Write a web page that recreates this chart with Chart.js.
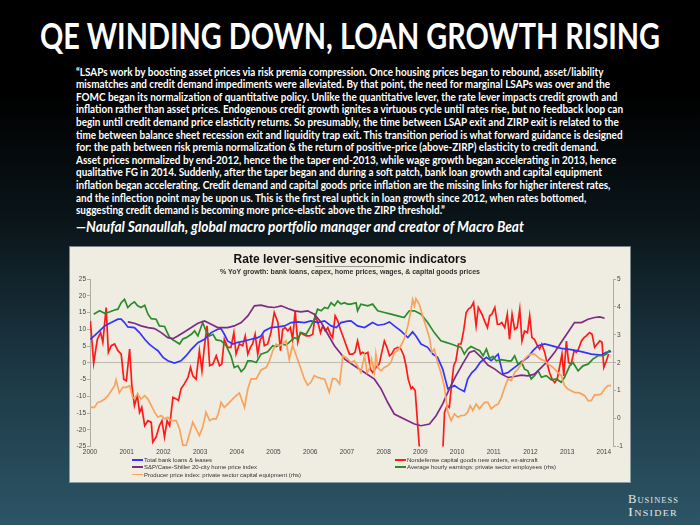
<!DOCTYPE html>
<html><head><meta charset="utf-8">
<script src="https://cdn.jsdelivr.net/npm/chart.js@4.4.1/dist/chart.umd.min.js"></script>
<style>
html,body{margin:0;padding:0;width:700px;height:525px;overflow:hidden}
body{position:relative;background:linear-gradient(180deg,#000 0%,#000 18%,#0a1519 42%,#1a3541 68%,#2d5566 100%);color:#fff;font-family:Lato,"Open Sans",sans-serif}
.fit{position:absolute;white-space:nowrap;transform-origin:0 50%}
#title{left:40px;top:15px;font-size:36px;font-weight:700;line-height:40px}
.q{left:76px;font-size:11.5px;font-weight:700;line-height:13px}
#attr{left:76px;top:217px;font-size:15px;font-weight:700;font-style:italic;line-height:18px}
#panel{position:absolute;left:70px;top:247px;width:560px;height:235px;background:#efece1;box-shadow:0 0 0 1px rgba(255,255,255,0.45)}
#panel canvas{position:absolute;left:0;top:0}
#ctitle{position:absolute;left:0;width:560px;top:5px;text-align:center;font-family:"Liberation Sans",Arial,sans-serif;font-weight:700;font-size:12px;line-height:14px;color:#111}
#csub{position:absolute;left:0;width:560px;top:20.5px;text-align:center;font-family:"Liberation Sans",Arial,sans-serif;font-weight:700;font-size:7px;line-height:8px;color:#333}
#uline{position:absolute;left:245px;top:18.5px;width:69px;height:1px;background:#9a978f}
.lg{position:absolute;font-family:"Liberation Sans",Arial,sans-serif;font-size:6px;line-height:7px;color:#333;white-space:nowrap}
.lg i{display:inline-block;width:11px;height:1.6px;vertical-align:middle;margin-right:1px;margin-top:-1px}
.bi{position:absolute;left:628px;font-family:"Liberation Serif","DejaVu Serif",serif;font-size:12px;line-height:13px;font-variant:small-caps;letter-spacing:1px;color:#e4e7ea}
</style></head>
<body>
<div id="title" class="fit" data-w="620">QE WINDING DOWN, LOAN GROWTH RISING</div>
<div id="quote"></div>
<div id="attr" class="fit" data-w="448">—Naufal Sanaullah, global macro portfolio manager and creator of Macro Beat</div>
<div id="panel">
  <canvas id="c" width="560" height="212" style="width:560px;height:212px"></canvas>
  <div id="ctitle">Rate lever-sensitive economic indicators</div>
  <div id="uline"></div>
  <div id="csub">% YoY growth: bank loans, capex, home prices, wages, &amp; capital goods prices</div>
  <div id="legend"></div>
</div>
<div class="bi fit" data-w="51" style="top:492.5px">Business</div>
<div class="bi fit" data-w="50" style="top:505.5px">Insider</div>
<script>
// ---------- text ----------
const quoteLines = [
"\u201cLSAPs work by boosting asset prices via risk premia compression. Once housing prices began to rebound, asset/liability",
"mismatches and credit demand impediments were alleviated. By that point, the need for marginal LSAPs was over and the",
"FOMC began its normalization of quantitative policy. Unlike the quantitative lever, the rate lever impacts credit growth and",
"inflation rather than asset prices. Endogenous credit growth ignites a virtuous cycle until rates rise, but no feedback loop can",
"begin until credit demand price elasticity returns. So presumably, the time between LSAP exit and ZIRP exit is related to the",
"time between balance sheet recession exit and liquidity trap exit. This transition period is what forward guidance is designed",
"for: the path between risk premia normalization & the return of positive-price (above-ZIRP) elasticity to credit demand.",
"Asset prices normalized by end-2012, hence the the taper end-2013, while wage growth began accelerating in 2013, hence",
"qualitative FG in 2014. Suddenly, after the taper began and during a soft patch, bank loan growth and capital equipment",
"inflation began accelerating. Credit demand and capital goods price inflation are the missing links for higher interest rates,",
"and the inflection point may be upon us. This is the first real uptick in loan growth since 2012, when rates bottomed,",
"suggesting credit demand is becoming more price-elastic above the ZIRP threshold.\u201d"
];

// ---------- chart data ----------
const yearTicks = [2000,2001,2002,2003,2004,2005,2006,2007,2008,2009,2010,2011,2012,2013,2014];
const leftTicks = [-25,-20,-15,-10,-5,0,5,10,15,20,25];
const rightTicks = [-1,0,1,2,3,4,5];
const seriesNames = [
  "Total bank loans & leases",
  "S&P/Case-Shiller 20-city home price index",
  "Producer price index: private sector capital equipment (rhs)",
  "Nondefense capital goods new orders, ex-aircraft",
  "Average hourly earnings: private sector employees (rhs)"
];

// Total bank loans & leases (% YoY, left axis)
const loansT = [2000.01,2000.21,2000.40,2000.58,2000.76,2000.85,2000.94,2001.03,2001.21,2001.35,2001.49,2001.62,2001.76,2001.85,2001.99,
2002.12,2002.30,2002.48,2002.62,2002.76,2002.94,2003.12,2003.30,2003.48,2003.57,2003.66,2003.75,2003.89,2004.03,2004.21,2004.39,2004.57,
2004.66,2004.75,2004.93,2005.12,2005.30,2005.48,2005.66,2005.84,2006.02,2006.21,2006.39,2006.57,2006.71,2006.84,2007.02,2007.11,2007.29,
2007.48,2007.70,2007.84,2008.02,2008.16,2008.29,2008.47,2008.66,2008.79,2008.88,2009.02,2009.20,2009.34,2009.47,2009.61,2009.75,2009.84,
2009.93,2010.06,2010.20,2010.29,2010.40,2010.50,2010.63,2010.80,2010.93,2011.12,2011.25,2011.39,2011.57,2011.75,2011.93,2012.07,2012.21,
2012.39,2012.57,2012.84,2013.11,2013.39,2013.66,2013.93,2014.07,2014.20];
const loansV = [7.0,9.0,11.0,12.0,13.0,13.0,12.0,10.7,10.5,9.0,7.0,5.5,4.3,3.6,1.6,
0.6,-0.1,0.6,2.1,4.0,6.0,7.0,9.0,10.0,10.2,8.5,6.5,5.6,6.1,6.5,7.0,7.5,
8.0,9.5,10.5,10.7,11.0,12.0,12.2,12.0,12.5,12.0,12.5,11.0,10.5,12.0,12.4,12.5,11.0,
10.5,12.0,11.2,11.5,12.2,11.0,9.5,7.5,9.2,8.0,5.6,4.6,2.6,1.6,-1.9,-7.8,-7.3,
-6.8,-7.8,-8.6,-4.9,-3.0,-2.0,0.1,1.6,0.6,2.6,-3.4,-2.9,-1.4,0.1,1.6,3.6,5.1,
5.6,5.1,4.3,3.9,3.3,2.6,2.3,3.1,3.4];

// S&P/Case-Shiller 20-city (% YoY, left axis)
const homeT = [2001.03,2001.21,2001.39,2001.58,2001.76,2001.94,2002.12,2002.26,2002.39,2002.57,2002.76,2002.94,2003.12,2003.30,2003.48,
2003.75,2003.93,2004.12,2004.30,2004.48,2004.66,2004.84,2005.02,2005.21,2005.39,2005.57,2005.75,2005.93,2006.11,2006.30,2006.48,2006.66,
2006.84,2006.95,2007.20,2007.48,2007.75,2007.93,2008.11,2008.29,2008.56,2008.84,2009.02,2009.25,2009.43,2009.61,2009.79,2009.97,2010.15,
2010.34,2010.47,2010.66,2010.84,2011.03,2011.21,2011.39,2011.57,2011.75,2011.93,2012.11,2012.30,2012.48,2012.66,2012.84,2013.02,2013.20,
2013.39,2013.57,2013.75,2013.89,2014.02];
const homeV = [12.2,11.8,11.0,10.5,10.2,9.0,7.5,7.2,8.0,9.2,10.5,11.8,12.5,11.5,10.5,
10.5,11.0,12.0,14.0,17.0,17.2,16.7,16.5,17.0,16.2,15.5,15.2,15.5,14.5,12.0,8.5,5.1,
2.6,1.0,-0.9,-2.9,-4.9,-7.8,-11.8,-15.3,-16.8,-18.3,-18.8,-18.3,-15.8,-12.3,-7.8,-3.9,-0.4,
3.1,3.6,1.6,-0.7,-1.9,-3.4,-4.4,-4.1,-3.7,-3.9,-3.4,-1.4,0.6,3.1,6.1,9.0,12.0,
12.0,13.0,13.5,13.7,13.3];

// Nondefense capital goods new orders ex-aircraft (% YoY, left axis)
const capexT = [2000.01,2000.10,2000.20,2000.29,2000.35,2000.44,2000.50,2000.58,2000.67,2000.76,2000.85,2000.92,2000.99,
2001.08,2001.14,2001.21,2001.29,2001.35,2001.41,2001.49,2001.58,2001.67,2001.71,2001.80,2001.89,2001.96,
2002.03,2002.10,2002.17,2002.26,2002.35,2002.41,2002.48,2002.57,2002.67,2002.74,2002.80,2002.89,2002.98,
2003.05,2003.12,2003.19,2003.26,2003.35,2003.44,2003.53,2003.59,2003.66,2003.75,2003.84,2003.92,2003.98,
2004.07,2004.16,2004.23,2004.30,2004.37,2004.43,2004.50,2004.57,2004.64,2004.71,2004.75,2004.84,2004.93,
2005.02,2005.12,2005.19,2005.25,2005.32,2005.39,2005.46,2005.52,2005.59,2005.66,2005.73,2005.80,2005.89,2005.98,
2006.07,2006.13,2006.21,2006.28,2006.34,2006.41,2006.48,2006.55,2006.61,2006.68,2006.75,2006.82,2006.89,2006.95,
2007.02,2007.07,2007.16,2007.22,2007.29,2007.37,2007.43,2007.49,2007.57,2007.64,2007.70,2007.79,2007.88,2007.95,
2008.02,2008.09,2008.16,2008.22,2008.29,2008.38,2008.47,2008.55,2008.61,2008.67,2008.75,2008.79,2008.86,2008.91,2008.97,
2009.04,2009.12,2009.20,2009.30,2009.40,2009.50,2009.58,2009.62,2009.66,2009.73,2009.79,2009.85,2009.91,2009.97,
2010.04,2010.11,2010.18,2010.25,2010.31,2010.38,2010.45,2010.52,2010.58,2010.68,2010.75,2010.83,2010.89,2010.95,
2011.03,2011.10,2011.16,2011.22,2011.30,2011.37,2011.43,2011.50,2011.57,2011.64,2011.71,2011.77,2011.84,2011.92,2011.98,
2012.04,2012.11,2012.19,2012.25,2012.31,2012.39,2012.46,2012.52,2012.59,2012.66,2012.73,2012.80,2012.86,2012.91,2012.98,
2013.04,2013.11,2013.19,2013.25,2013.31,2013.39,2013.46,2013.52,2013.61,2013.68,2013.75,2013.82,2013.89,2013.95,
2014.00,2014.07,2014.13];
const capexV = [12.5,-0.1,7.0,9.0,6.1,16.5,3.1,5.1,5.6,3.6,2.6,-4.9,-5.4,
4.1,-6.8,-12.8,-9.8,-14.8,-13.3,-18.8,-17.3,-17.8,-23.7,-22.2,-18.8,-17.3,
-22.2,-17.3,-18.8,-10.3,-10.8,-11.3,-7.8,-6.3,-4.4,-1.4,-3.9,-4.9,3.6,
-2.4,5.1,11.0,-0.9,-0.4,2.1,-0.9,-0.4,7.0,4.6,4.6,9.0,2.6,
5.6,5.1,8.0,2.6,4.6,5.6,8.5,2.6,7.0,8.0,5.1,5.6,9.0,
15.0,12.0,3.6,10.0,10.5,9.5,10.5,7.0,15.5,6.1,9.0,8.5,8.0,8.0,
8.5,14.0,12.0,9.0,11.0,9.5,10.5,8.5,7.5,14.0,12.5,10.0,8.0,6.1,
4.0,2.6,2.6,3.1,6.5,2.6,3.1,2.6,3.1,-1.9,-2.9,-1.4,-0.4,3.1,
6.5,4.6,2.1,2.6,4.1,4.6,4.1,2.1,-0.9,-4.9,-7.8,-7.3,-8.3,-15.8,-24.7,
-27.0,-25.5,-26.5,-34.0,-36.0,-31.0,-27.0,-24.7,-14.8,-12.8,-13.3,-6.8,-0.9,0.6,
5.6,5.6,9.5,15.0,16.0,16.5,18.0,11.0,16.5,14.5,12.5,10.5,14.0,14.5,
16.5,11.5,11.5,12.0,10.5,14.5,7.0,14.5,10.0,10.5,16.0,6.5,9.5,9.0,14.0,
7.5,7.0,5.1,4.1,5.6,3.1,-0.4,-2.9,-4.9,-5.9,-4.9,-0.9,2.6,-3.9,6.5,
0.1,-0.4,3.6,3.1,4.1,6.5,7.5,8.0,9.0,8.5,4.6,5.6,6.5,6.1,
-1.4,0.6,2.6];

// Average hourly earnings, private sector (% YoY, right axis)
const wagesT = [2000.10,2000.26,2000.40,2000.53,2000.67,2000.76,2000.85,2000.94,
2001.03,2001.12,2001.21,2001.30,2001.39,2001.49,2001.58,2001.67,2001.80,2001.89,
2002.03,2002.17,2002.30,2002.44,2002.53,2002.62,2002.76,2002.85,2002.94,
2003.07,2003.16,2003.26,2003.35,2003.44,2003.57,2003.71,2003.84,2003.93,
2004.03,2004.12,2004.21,2004.30,2004.39,2004.53,2004.66,2004.84,2004.98,
2005.07,2005.21,2005.34,2005.48,2005.57,2005.66,2005.75,2005.89,
2006.02,2006.11,2006.20,2006.30,2006.39,2006.48,2006.57,2006.66,2006.75,2006.84,2006.93,
2007.02,2007.11,2007.25,2007.29,2007.38,2007.57,2007.70,2007.84,
2008.02,2008.20,2008.38,2008.56,2008.70,2008.84,
2009.02,2009.20,2009.38,2009.56,2009.70,2009.84,2009.97,
2010.11,2010.20,2010.29,2010.38,2010.52,2010.62,2010.71,2010.80,2010.89,2010.98,
2011.07,2011.21,2011.39,2011.48,2011.57,2011.66,2011.75,2011.84,2011.93,
2012.02,2012.11,2012.21,2012.30,2012.43,2012.57,2012.71,2012.84,2012.93,
2013.07,2013.16,2013.30,2013.43,2013.57,2013.70,2013.84,2013.98,
2014.07,2014.16];
const wagesV = [3.74,3.86,3.77,3.82,3.89,3.92,4.15,4.27,
3.98,4.10,4.18,4.04,3.98,4.06,3.74,3.58,3.56,3.32,
3.30,2.90,2.79,2.67,2.85,2.90,3.02,3.14,2.96,
3.44,3.14,2.96,3.02,2.82,2.79,2.61,2.25,1.83,
1.89,1.68,1.80,2.07,2.07,2.01,2.31,2.39,2.61,
2.58,2.67,2.63,2.79,2.90,2.85,3.08,3.02,
3.32,3.56,3.92,3.86,3.98,3.94,4.15,4.04,4.21,4.10,4.15,
4.10,4.10,4.15,3.86,4.10,4.04,4.10,3.86,
3.80,3.74,3.68,3.62,3.86,3.86,
3.74,3.44,3.08,2.79,2.73,2.67,2.61,
2.55,2.31,2.49,2.58,2.49,2.43,2.25,2.49,2.15,2.23,
2.07,2.11,2.07,2.07,2.25,1.95,2.04,1.77,1.71,
1.42,1.54,1.71,1.48,1.54,1.39,1.42,1.30,1.48,
1.89,2.01,1.71,1.89,1.95,2.13,2.25,2.25,
2.31,2.46];

// PPI private capital equipment (% YoY, right axis)
const ppiT = [2000.01,2000.12,2000.21,2000.30,2000.40,2000.49,2000.58,2000.67,2000.71,2000.80,2000.89,2000.99,
2001.08,2001.17,2001.21,2001.30,2001.39,2001.49,2001.58,2001.67,2001.76,2001.85,2001.94,
2002.03,2002.12,2002.21,2002.35,2002.44,2002.53,2002.62,2002.71,2002.80,2002.89,2002.98,
2003.07,2003.16,2003.26,2003.35,2003.44,2003.50,2003.57,2003.66,2003.80,2003.93,
2004.07,2004.21,2004.30,2004.39,2004.53,2004.66,2004.80,2004.89,2004.98,
2005.07,2005.16,2005.25,2005.34,2005.43,2005.52,2005.62,2005.75,2005.84,2005.93,
2006.02,2006.11,2006.20,2006.30,2006.39,2006.52,2006.61,2006.70,2006.80,2006.89,2006.98,
2007.11,2007.20,2007.29,2007.38,2007.48,2007.55,2007.61,2007.67,2007.75,2007.79,2007.84,2007.93,
2008.02,2008.11,2008.20,2008.29,2008.38,2008.47,2008.56,2008.66,2008.75,2008.79,2008.84,2008.88,2008.97,
2009.06,2009.15,2009.25,2009.31,2009.38,2009.47,2009.56,2009.65,2009.70,2009.75,2009.84,2009.93,
2010.02,2010.11,2010.20,2010.29,2010.36,2010.43,2010.52,2010.61,2010.75,2010.84,2010.93,
2011.03,2011.12,2011.21,2011.30,2011.39,2011.48,2011.57,2011.66,2011.75,2011.84,2011.93,
2012.02,2012.11,2012.21,2012.30,2012.39,2012.48,2012.57,2012.66,2012.75,2012.84,2012.93,
2013.02,2013.11,2013.20,2013.34,2013.48,2013.57,2013.66,2013.75,2013.84,2013.93,
2014.02,2014.11,2014.20];
const ppiV = [0.40,0.40,0.58,0.61,0.70,0.82,1.00,1.18,1.39,0.92,1.12,1.12,
1.18,0.73,0.73,0.88,0.70,0.82,0.70,0.46,0.23,0.05,0.11,
-0.01,0.05,-0.07,-0.07,-0.37,-0.96,-0.96,-0.55,-0.13,-0.37,-0.61,
-0.31,0.23,-0.07,-0.01,-0.01,0.20,0.58,0.40,0.58,0.76,
0.92,0.40,1.06,1.42,1.42,1.74,1.83,2.07,2.43,
2.67,2.61,2.67,2.79,2.11,2.63,2.25,1.77,1.42,1.20,
1.30,1.54,1.48,1.44,1.42,0.94,1.44,1.42,1.24,2.25,2.19,
2.01,2.07,1.89,1.65,2.25,1.65,1.77,2.13,1.65,2.31,1.83,1.71,
1.83,1.89,2.01,2.37,2.43,2.61,2.85,3.32,3.92,4.27,4.04,4.30,4.10,
3.68,3.32,2.90,2.37,2.49,2.01,1.65,1.18,0.70,0.23,-0.07,0.17,
0.05,0.11,0.11,0.23,0.46,0.29,0.52,0.35,0.58,0.58,0.35,
0.46,0.52,0.76,1.12,1.42,1.36,1.65,1.77,1.95,2.13,2.25,
2.31,2.31,2.19,2.11,2.07,1.95,1.89,1.77,1.65,1.54,1.18,
1.06,1.00,0.94,0.92,0.82,0.64,0.64,0.85,0.85,0.88,
1.06,1.18,1.18];

// ---------- build slide text ----------
const qdiv = document.getElementById('quote');
quoteLines.forEach((t, i) => {
  const d = document.createElement('div');
  d.className = 'q fit';
  d.style.top = (71 + 12.6 * i - 6.5) + 'px';
  d.textContent = t;
  qdiv.appendChild(d);
});

function fitAll() {
  document.querySelectorAll('.fit[data-w]').forEach(el => {
    el.style.transform = 'none';
    const w = el.getBoundingClientRect().width;
    el.style.transform = 'scaleX(' + (parseFloat(el.dataset.w) / w) + ')';
  });
  const qs = document.querySelectorAll('.q');
  qs.forEach(el => el.style.transform = 'none');
  const k = 547 / qs[3].getBoundingClientRect().width;
  qs.forEach(el => el.style.transform = 'scaleX(' + k + ')');
}
fitAll();
if (document.fonts && document.fonts.ready) document.fonts.ready.then(fitAll);

// ---------- legend (HTML) ----------
const colors = ['#3434ff', '#7e2b86', '#f8a35e', '#ff1a1a', '#2b8c2b'];
const legendPos = [[62, 210], [62, 217.3], [62, 224.6], [325, 210], [325, 217.3]];
const lg = document.getElementById('legend');
seriesNames.forEach((n, i) => {
  const d = document.createElement('div');
  d.className = 'lg';
  d.style.left = legendPos[i][0] + 'px';
  d.style.top = legendPos[i][1] + 'px';
  const sw = document.createElement('i');
  sw.style.background = colors[i];
  d.appendChild(sw);
  d.appendChild(document.createTextNode(n));
  lg.appendChild(d);
});

// ---------- chart ----------
function pts(T, V) {
  const n = Math.min(T.length, V.length);
  const out = [];
  for (let i = 0; i < n; i++) out.push({x: T[i], y: V[i]});
  return out;
}
function ds(idx, T, V, axis) {
  return {label: seriesNames[idx], data: pts(T, V), borderColor: colors[idx], backgroundColor: colors[idx],
    borderWidth: 1.7, pointRadius: 0, tension: 0, yAxisID: axis, fill: false};
}
const tickFont = {family: '"Liberation Sans", Arial, sans-serif', size: 6.5};
new Chart(document.getElementById('c'), {
  type: 'line',
  data: {datasets: [
    ds(2, ppiT, ppiV, 'y1'),
    ds(1, homeT, homeV, 'y'),
    ds(4, wagesT, wagesV, 'y1'),
    ds(0, loansT, loansV, 'y'),
    ds(3, capexT, capexV, 'y')
  ]},
  options: {
    responsive: false, animation: false,
    layout: {padding: {top: 32, left: 0, right: 0, bottom: 0}},
    plugins: {legend: {display: false}, tooltip: {enabled: false}, title: {display: false}, subtitle: {display: false}},
    scales: {
      x: {type: 'linear', min: 2000, max: 2014.25,
        ticks: {stepSize: 1, includeBounds: false, autoSkip: false, maxRotation: 0, minRotation: 0,
          callback: v => (yearTicks.indexOf(v) >= 0 ? String(v) : ''), font: tickFont, color: '#444', padding: 2},
        grid: {display: false, drawTicks: false, tickLength: 0}, border: {display: false},
        afterFit: s => { s.height = 12.5; }},
      y: {position: 'left', min: -25, max: 25,
        ticks: {stepSize: 5, callback: v => (leftTicks.indexOf(v) >= 0 ? String(v) : ''), font: tickFont, color: '#444', padding: 1},
        grid: {color: c => (c.tick && c.tick.value === 0) ? '#bdbab0' : 'rgba(0,0,0,0)', tickColor: '#b0ada4', tickLength: 3, lineWidth: 1},
        border: {display: true, color: '#b0ada4'},
        afterFit: s => { s.width = 20; }},
      y1: {position: 'right', min: -1, max: 5,
        ticks: {stepSize: 1, callback: v => (rightTicks.indexOf(v) >= 0 ? String(v) : ''), font: tickFont, color: '#444', padding: 1},
        grid: {drawOnChartArea: false, tickColor: '#b0ada4', tickLength: 3},
        border: {display: true, color: '#b0ada4'},
        afterFit: s => { s.width = 17; }}
    }
  }
});
</script>
</body></html>
